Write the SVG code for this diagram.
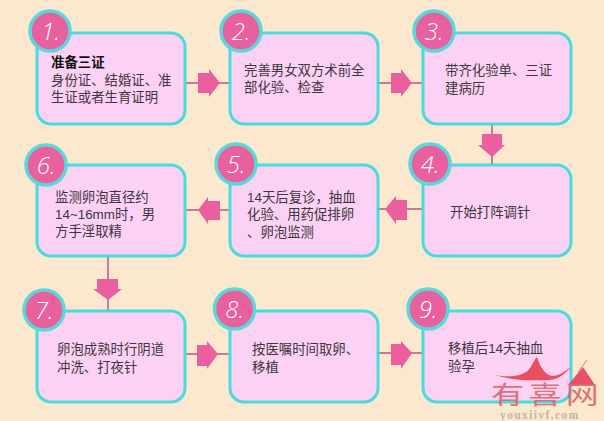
<svg xmlns="http://www.w3.org/2000/svg" width="604" height="421" viewBox="0 0 604 421">
<style>
.box{fill:#fcd2f4;stroke:#48dcdc;stroke-width:3}
.circ{fill:#e9609f;stroke:#58d8d8;stroke-width:3.5}
.num{font-family:"Open Sans","Liberation Sans",sans-serif;font-size:24px;font-style:italic;font-weight:300;fill:#fff;text-anchor:middle}
.t{font-family:"Liberation Sans","Noto Sans CJK SC",sans-serif;font-size:13.4px;fill:#403540}
.b{font-weight:bold;fill:#111}
.ln{stroke:#c97a9c;stroke-width:2;fill:none}
.ar{fill:#ea609f}
</style>
<rect width="604" height="421" fill="#fce8cf"/>
<g id="connectors">
<path class="ln" d="M185 83H230M378 83H423M492 124V165M423 209H378M230 210H185M108 256V310M185 354H230M378 353H423"/>
<path class="ar" d="M198 73H209V69L220 83L209 97V93H198Z"/>
<path class="ar" d="M391 73H401V69L412 83L401 97V93H391Z"/>
<path class="ar" d="M482 134H502V145H505L492 157L478 145H482Z"/>
<path class="ar" d="M407 200H396V196L385 209L396 224V220H407Z"/>
<path class="ar" d="M220 201H208V197L198 210L208 224V220H220Z"/>
<path class="ar" d="M97 279H118V289H122L108 300L93 289H97Z"/>
<path class="ar" d="M197 345H207V341L218 354L207 369V366H197Z"/>
<path class="ar" d="M391 344H401V341L412 353L401 369V365H391Z"/>
</g>
<g id="n1"><rect class="box" x="37" y="33" width="148" height="91" rx="14"/><circle class="circ" cx="50" cy="31" r="20"/><text class="num" x="50.500" y="40">1.</text><text class="t" x="51" y="67"><tspan class="b">准备三证</tspan><tspan x="51" y="84.500">身份证、结婚证、准</tspan><tspan x="51" y="102">生证或者生育证明</tspan></text></g>
<g id="n2"><rect class="box" x="230" y="33" width="148" height="91" rx="14"/><circle class="circ" cx="241" cy="31" r="20"/><text class="num" x="241" y="40">2.</text><text class="t" x="244" y="74.500">完善男女双方术前全<tspan x="244" y="92">部化验、检查</tspan></text></g>
<g id="n3"><rect class="box" x="423" y="33" width="148" height="91" rx="14"/><circle class="circ" cx="434" cy="31" r="20"/><text class="num" x="434" y="40">3.</text><text class="t" x="445" y="75">带齐化验单、三证<tspan x="445" y="92.500">建病历</tspan></text></g>
<g id="n4"><rect class="box" x="423" y="165" width="148" height="91" rx="14"/><circle class="circ" cx="430" cy="164" r="20"/><text class="num" x="430" y="173">4.</text><text class="t" x="450" y="216.500">开始打阵调针</text></g>
<g id="n5"><rect class="box" x="230" y="165" width="148" height="91" rx="14"/><circle class="circ" cx="236" cy="164" r="20"/><text class="num" x="236" y="173">5.</text><text class="t" x="247" y="201.500">14天后复诊，抽血<tspan x="247" y="219">化验、用药促排卵</tspan><tspan x="247" y="236.500">、卵泡监测</tspan></text></g>
<g id="n6"><rect class="box" x="37" y="165" width="148" height="91" rx="14"/><circle class="circ" cx="46" cy="165" r="20"/><text class="num" x="46" y="174">6.</text><text class="t" x="55" y="201.500">监测卵泡直径约<tspan x="55" y="218.500">14~16mm时，男</tspan><tspan x="55" y="236">方手淫取精</tspan></text></g>
<g id="n7"><rect class="box" x="37" y="311" width="148" height="91" rx="14"/><circle class="circ" cx="44" cy="310" r="20"/><text class="num" x="44" y="319">7.</text><text class="t" x="57" y="354">卵泡成熟时行阴道<tspan x="57" y="371.500">冲洗、打夜针</tspan></text></g>
<g id="n8"><rect class="box" x="230" y="311" width="148" height="91" rx="14"/><circle class="circ" cx="234.500" cy="309" r="20"/><text class="num" x="234.500" y="318">8.</text><text class="t" x="252" y="354">按医嘱时间取卵、<tspan x="252" y="371.500">移植</tspan></text></g>
<g id="n9"><rect class="box" x="423" y="311" width="148" height="91" rx="14"/><circle class="circ" cx="428" cy="309" r="20"/><text class="num" x="428" y="318">9.</text><text class="t" x="448" y="353">移植后14天抽血<tspan x="448" y="371">验孕</tspan></text></g>
<g id="watermark">
<path d="M495 375C510 378 525 376 530 368C533 363 535 359 537 357C539 365 545 375 552 376C558 376 565 372 572 366C565 374 558 380 548 380C530 381 510 380 495 375Z" fill="#e8505f"/>
<path d="M583 367L595 385H568Z" fill="#ea4f66"/>
<path d="M578 372L587 360" stroke="#d87a80" stroke-width="1" fill="none"/>
<text transform="translate(491 404) scale(1.1 .82)" x="0 34 68" y="0" font-family="Liberation Sans,Noto Sans CJK SC,sans-serif" font-size="30" fill="#dc666c" opacity="0.9">有喜网</text>
<text x="500" y="419" font-family="Liberation Serif,serif" font-size="11.500" font-weight="bold" letter-spacing="1.400" fill="#c4b5aa">youxiivf.com</text>
</g>
</svg>
